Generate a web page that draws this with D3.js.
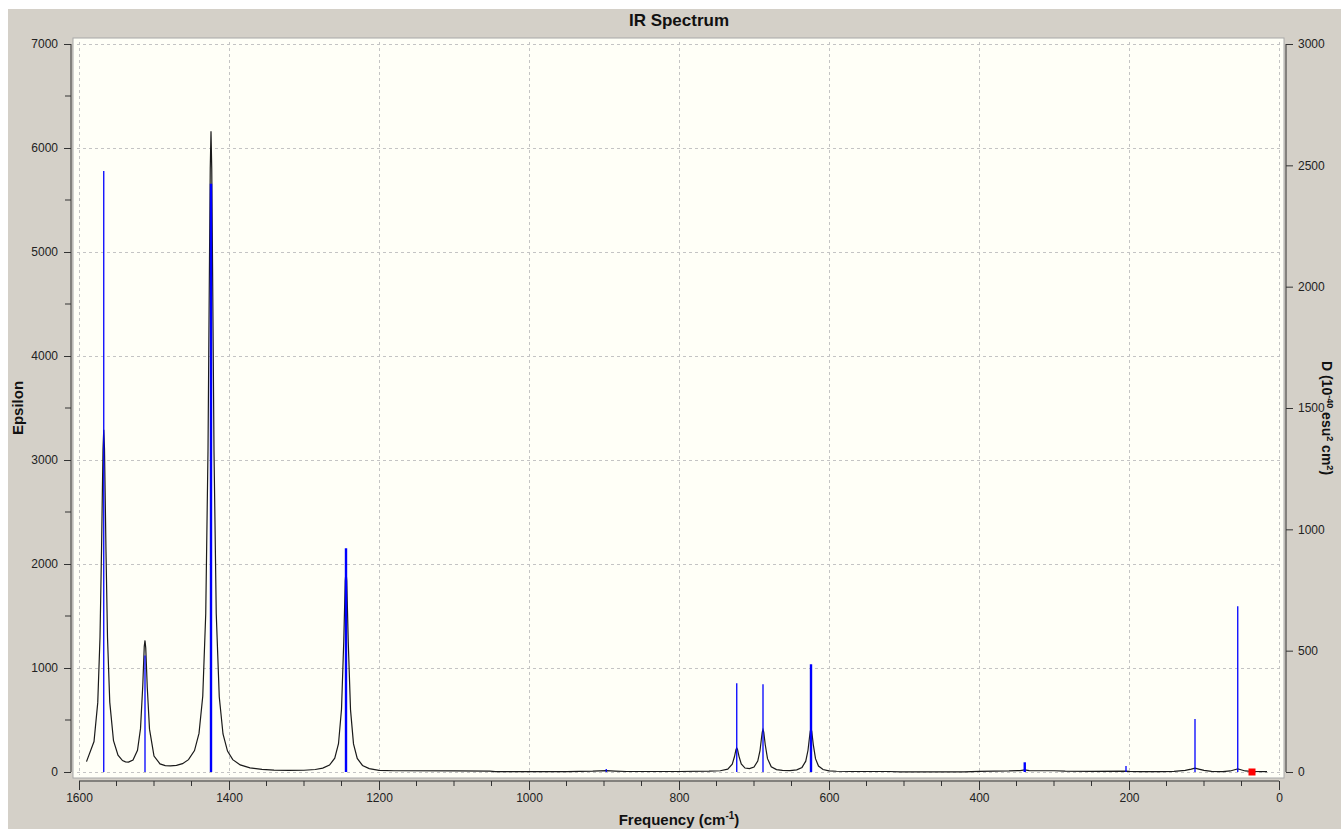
<!DOCTYPE html>
<html>
<head>
<meta charset="utf-8">
<script src="https://cdn.jsdelivr.net/npm/d3@7"></script>
<style>
  html, body { margin: 0; padding: 0; background: #ffffff; }
  svg { display: block; }
  text { font-family: "Liberation Sans", Arial, sans-serif; }
</style>
</head>
<body>
<svg id="chart" width="1341" height="829"></svg>
<script>
// ---------- data ----------
const specFreq = [1590,1580,1575,1572,1570,1568,1567,1566,1564,1562,1559,1554,1548,1542,1538,1534,1528,1522,1518,1515,1513,1512,1511,1509,1506,1500,1492,1485,1478,1470,1462,1454,1446,1440,1435,1431,1428,1426,1425,1424,1423,1422,1420,1417,1413,1408,1402,1395,1385,1372,1356,1340,1320,1300,1285,1275,1266,1259,1254,1250,1247,1245,1244,1243,1241,1238,1234,1229,1222,1213,1200,1180,1100,1052,1045,950,915,897,885,870,800,760,745,735,729,726,724,723,722,720,717,712,706,700,695,692,690,689,688,687,685,682,677,670,662,652,643,636,631,628,626,625,624,623,621,618,614,608,600,590,570,520,505,420,400,360,345,339,333,320,300,285,250,205,200,185,160,140,125,117,112,107,100,90,75,65,58,55,52,45,35,16];
const specEps  = [100,293,667,1294,2116,3106,3290,3106,2118,1296,672,301,161,110,98,95,116,209,417,827,1206,1265,1192,817,412,153,78,61,58,63,80,119,206,371,728,1525,3089,4937,5806,6160,5796,4928,3085,1521,724,366,201,119,68,40,25,18,15,17,24,37,66,133,272,603,1253,1838,1930,1838,1250,600,270,130,63,33,16,12,10,9,4,4,8,14,9,5,5,8,12,27,75,149,217,230,217,151,77,38,32,48,105,206,327,384,408,384,262,128,51,23,15,14,21,44,104,209,334,390,417,390,266,128,57,24,11,7,5,5,2,2,6,10,14,20,14,12,12,8,6,8,6,3,3,6,15,28,38,28,15,6,4,10,24,30,24,10,5,3];

const stickFreq = [1567, 1512, 1424, 1244, 897, 723, 688, 624, 339, 204, 112, 55];
const stickD    = [2477, 480, 2424, 922, 12, 366, 362, 444, 40, 25, 218, 683];

const markerFreq = [36];
const markerVal  = [0];

const xTicks      = [1600,1400,1200,1000,800,600,400,200,0];
const xMinorTicks = d3.range(1600, -1, -50);
const yLeftTicks  = [0,1000,2000,3000,4000,5000,6000,7000];
const yLeftMinor  = d3.range(0, 7001, 500);
const yRightTicks = [0,500,1000,1500,2000,2500,3000];

// ---------- layout ----------
const svg = d3.select("#chart");
const W = 1341, H = 829;

svg.append("rect").attr("x", 8).attr("y", 9).attr("width", W - 8).attr("height", H - 9).attr("fill", "#d4d0c8");

const x  = d3.scaleLinear().domain([1600, 0]).range([79, 1279]);
const yL = d3.scaleLinear().domain([0, 7000]).range([772, 44]);
const yR = d3.scaleLinear().domain([0, 3000]).range([772, 44]);

// plot background
svg.append("rect").attr("x", 73).attr("y", 38).attr("width", 1211).attr("height", 740)
  .attr("fill", "#fffff7").attr("stroke", "#a8a8a8").attr("stroke-width", 1);

// grid
const grid = svg.append("g").attr("stroke", "#c4c4c4").attr("stroke-width", 1).attr("stroke-dasharray", "3,3");
grid.selectAll("line.v").data(xTicks).enter().append("line")
  .attr("x1", d => Math.round(x(d)) + 0.5).attr("x2", d => Math.round(x(d)) + 0.5)
  .attr("y1", 42).attr("y2", 775);
grid.selectAll("line.h").data(yLeftTicks).enter().append("line")
  .attr("y1", d => Math.round(yL(d)) + 0.5).attr("y2", d => Math.round(yL(d)) + 0.5)
  .attr("x1", 77).attr("x2", 1281);

// spectrum
const line = d3.line().x((d, i) => x(specFreq[i])).y((d, i) => yL(specEps[i]));
svg.append("path").datum(specEps).attr("d", line)
  .attr("fill", "none").attr("stroke", "#1a1a1a").attr("stroke-width", 1.2).attr("stroke-linejoin", "miter");

// sticks
const thick = new Set([1424, 1244, 624, 339]);
svg.append("g").selectAll("line").data(stickFreq).enter().append("line")
  .attr("x1", d => x(d)).attr("x2", d => x(d))
  .attr("y1", yR(0)).attr("y2", (d, i) => yR(stickD[i]))
  .attr("stroke", "#0000ff")
  .attr("stroke-width", d => thick.has(d) ? 2.4 : 1.3);

// marker
svg.append("g").selectAll("rect").data(markerFreq).enter().append("rect")
  .attr("x", d => x(d) - 3.5).attr("y", (d, i) => yL(markerVal[i]) - 3.5)
  .attr("width", 7).attr("height", 7).attr("fill", "#ff0000");

// axes
function styleAxis(g) {
  g.selectAll("path").attr("stroke", "#333");
  g.selectAll("line").attr("stroke", "#333");
  g.selectAll("text").attr("fill", "#222").style("font-size", "12px").style("font-family", '"Liberation Sans", Arial, sans-serif');
}

// bottom
const gx = svg.append("g").attr("transform", "translate(0,781)")
  .call(d3.axisBottom(x).tickValues(xTicks).tickSize(9).tickSizeOuter(0).tickPadding(3).tickFormat(d3.format("d")));
gx.select(".domain").attr("d", `M${x(1600)},0H${x(0)}`);
styleAxis(gx);
svg.append("g").attr("transform", "translate(0,781)").selectAll("line").data(xMinorTicks.filter(d => !xTicks.includes(d))).enter()
  .append("line").attr("x1", d => x(d)).attr("x2", d => x(d)).attr("y1", 0).attr("y2", 5).attr("stroke", "#333");

// left
const gy = svg.append("g").attr("transform", "translate(71,0)")
  .call(d3.axisLeft(yL).tickValues(yLeftTicks).tickSize(7).tickSizeOuter(0).tickPadding(6).tickFormat(d3.format("d")));
gy.select(".domain").attr("d", `M0,${yL(0)}V${yL(7000)}`);
styleAxis(gy);
svg.append("g").attr("transform", "translate(71,0)").selectAll("line").data(yLeftMinor.filter(d => !yLeftTicks.includes(d))).enter()
  .append("line").attr("y1", d => yL(d)).attr("y2", d => yL(d)).attr("x1", 0).attr("x2", -6).attr("stroke", "#333");

// right
const gr = svg.append("g").attr("transform", "translate(1286,0)")
  .call(d3.axisRight(yR).tickValues(yRightTicks).tickSize(7).tickSizeOuter(0).tickPadding(5).tickFormat(d3.format("d")));
gr.select(".domain").attr("d", `M0,${yR(0)}V${yR(3000)}`);
styleAxis(gr);

// titles
svg.append("text").attr("x", 679).attr("y", 26).attr("text-anchor", "middle")
  .style("font-size", "17px").style("font-weight", "bold").attr("fill", "#111").text("IR Spectrum");

const xl = svg.append("text").attr("x", 679).attr("y", 825).attr("text-anchor", "middle")
  .style("font-size", "15px").style("font-weight", "bold").attr("fill", "#111");
xl.append("tspan").text("Frequency (cm");
xl.append("tspan").attr("dy", -6).style("font-size", "10px").text("-1");
xl.append("tspan").attr("dy", 6).text(")");

svg.append("text").attr("transform", "translate(23,408) rotate(-90)").attr("text-anchor", "middle")
  .style("font-size", "15px").style("font-weight", "bold").attr("fill", "#111").text("Epsilon");

const rl = svg.append("text").attr("transform", "translate(1322,418) rotate(90)").attr("text-anchor", "middle")
  .style("font-size", "14px").style("font-weight", "bold").attr("fill", "#111");
rl.append("tspan").text("D (10");
rl.append("tspan").attr("dy", -5).style("font-size", "9px").text("-40");
rl.append("tspan").attr("dy", 5).text(" esu");
rl.append("tspan").attr("dy", -5).style("font-size", "9px").text("2");
rl.append("tspan").attr("dy", 5).text(" cm");
rl.append("tspan").attr("dy", -5).style("font-size", "9px").text("2");
rl.append("tspan").attr("dy", 5).text(")");
</script>
</body>
</html>
